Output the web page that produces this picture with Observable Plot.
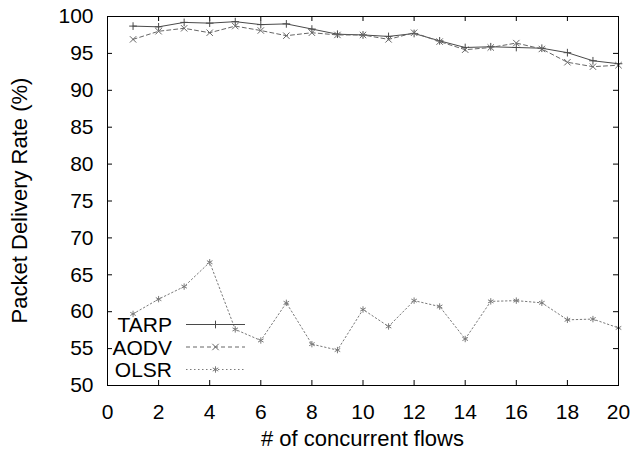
<!DOCTYPE html>
<html><head><meta charset="utf-8">
<script src="https://cdn.jsdelivr.net/npm/d3@7"></script>
<script src="https://cdn.jsdelivr.net/npm/@observablehq/plot@0.6"></script>
<style>body{margin:0;background:#fff}#chart{position:relative;width:633px;height:451px}</style>
</head><body><div id="chart"></div>
<script>
const flows = [1,2,3,4,5,6,7,8,9,10,11,12,13,14,15,16,17,18,19,20];
const tarp = [98.7,98.6,99.2,99.1,99.3,98.9,99.0,98.3,97.6,97.5,97.3,97.7,96.7,95.8,95.9,95.8,95.7,95.1,94.0,93.6];
const aodv = [96.9,98.0,98.4,97.8,98.7,98.1,97.4,97.8,97.5,97.5,96.9,97.8,96.6,95.5,95.8,96.4,95.6,93.8,93.2,93.4];
const olsr = [59.7,61.7,63.4,66.7,57.6,56.1,61.2,55.6,54.8,60.3,58.0,61.5,60.7,56.3,61.4,61.5,61.2,58.9,59.0,57.8];
const seriesNames = ["TARP","AODV","OLSR"];
const seriesValues = [tarp, aodv, olsr];
const xTicks = [0,2,4,6,8,10,12,14,16,18,20];
const yTicks = [50,55,60,65,70,75,80,85,90,95,100];
const xLabel = "# of concurrent flows";
const yLabel = "Packet Delivery Rate (%)";

const styles = {
  TARP: {stroke:"#4a4a4a", dash:null, symbol:"plus", r:2.6},
  AODV: {stroke:"#666", dash:"4,3", symbol:"times", r:3},
  OLSR: {stroke:"#7a7a7a", dash:"1.5,2.5", symbol:"asterisk", r:3}
};
const table = seriesNames.flatMap((name,k) => seriesValues[k].map((v,i) => ({series:name, x:flows[i], y:v})));

const W=633, H=451, mL=107, mR=15, mT=16, mB=66;
const innerH = H-mT-mB, innerW = W-mL-mR, tick = 5;
const font = "'Liberation Sans', Arial, Helvetica, sans-serif";

const marks = [
  Plot.ruleX(xTicks, {x:d=>d, insetTop: innerH - tick, stroke:"#000"}),
  Plot.ruleX(xTicks, {x:d=>d, insetBottom: innerH - tick, stroke:"#000"}),
  Plot.ruleY(yTicks, {y:d=>d, insetRight: innerW - tick, stroke:"#000"}),
  Plot.ruleY(yTicks, {y:d=>d, insetLeft: innerW - tick, stroke:"#000"}),
  Plot.axisX({ticks:xTicks, tickSize:0, tickPadding:19, label:null, fontSize:21}),
  Plot.axisY({ticks:yTicks, tickSize:0, tickPadding:14, label:null, fontSize:21}),
];
for (const name of seriesNames) {
  const s = styles[name];
  const d = table.filter(r => r.series === name);
  marks.push(Plot.line(d, {x:"x", y:"y", stroke:s.stroke, strokeWidth:1, strokeDasharray:s.dash}));
  marks.push(Plot.dot(d, {x:"x", y:"y", symbol:s.symbol, r:s.r, stroke:s.stroke, strokeWidth:1}));
}
marks.push(Plot.frame({stroke:"#000", strokeWidth:1}));

const plot = Plot.plot({
  width:W, height:H, marginLeft:mL, marginRight:mR, marginTop:mT, marginBottom:mB,
  x:{domain:[0,20]}, y:{domain:[50,100]},
  style:{fontFamily:font, fontSize:"21px", color:"#000", background:"#fff"},
  marks
});
document.getElementById("chart").appendChild(plot);

const svg = d3.select(plot);
svg.append("text").attr("x",(mL + W - mR)/2).attr("y",446).attr("text-anchor","middle")
  .style("font-size","22px").style("font-family",font).attr("fill","#000").text(xLabel);
svg.append("text").attr("transform",`translate(27,${(mT + H - mB)/2}) rotate(-90)`).attr("text-anchor","middle")
  .style("font-size","22px").style("font-family",font).attr("fill","#000").text(yLabel);

const symMap = {plus:d3.symbolPlus, times:d3.symbolTimes, asterisk:d3.symbolAsterisk};
const rowY = [324.5, 347, 369.5];
seriesNames.forEach((name,i) => {
  const s = styles[name], y = rowY[i];
  const g = svg.append("g");
  g.append("text").attr("x",172).attr("y",y).attr("dy","0.36em").attr("text-anchor","end")
    .style("font-size","21px").style("font-family",font).attr("fill","#000").text(name);
  g.append("line").attr("x1",186).attr("x2",245).attr("y1",y).attr("y2",y)
    .attr("stroke",s.stroke).attr("stroke-width",1).attr("stroke-dasharray",s.dash);
  g.append("path").attr("transform",`translate(215.5,${y})`)
    .attr("d", d3.symbol(symMap[s.symbol], Math.PI*s.r*s.r)()).attr("fill","none")
    .attr("stroke",s.stroke).attr("stroke-width",1);
});
</script></body></html>
